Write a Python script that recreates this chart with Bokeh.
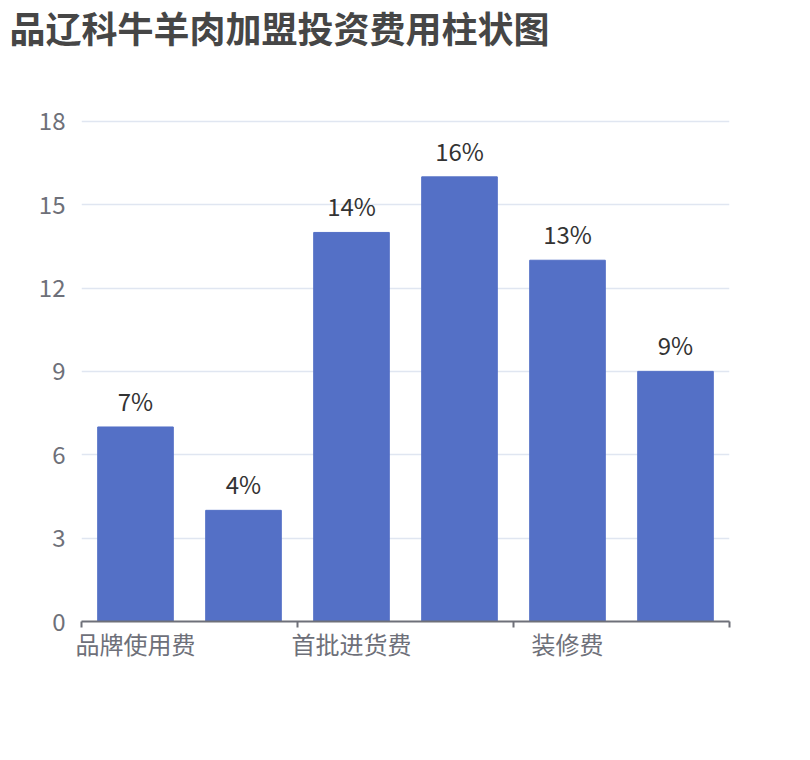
from bokeh.plotting import figure
from bokeh.models import ColumnDataSource, FixedTicker, Range1d
from bokeh.core.properties import value
from bokeh.embed import file_html
from bokeh.resources import INLINE

title_text = "品辽科牛羊肉加盟投资费用柱状图"
categories = ["品牌使用费", "加盟费", "首批进货费", "设备费", "装修费", "其他费用"]
values = [7, 4, 14, 16, 13, 9]
label_step = 2
y_ticks = [0, 3, 6, 9, 12, 15, 18]

FONT = "Noto Sans CJK SC"
AXIS_COLOR = "#6E7079"

xs = [i + 0.5 for i in range(len(values))]
src = ColumnDataSource(dict(x=xs, top=values, lab=[f"{v}%" for v in values]))

p = figure(width=794, height=744, output_backend="svg", toolbar_location=None,
           x_range=Range1d(0, len(values)), y_range=Range1d(0, 18.1),
           min_border_left=81, min_border_right=65, min_border_top=117, min_border_bottom=123)
p.outline_line_color = None
p.background_fill_color = "white"

p.title.text = title_text
p.title.text_font = FONT
p.title.text_font_size = "36px"
p.title.text_font_style = "bold"
p.title.text_color = "#464646"
p.title.text_line_height = 0.7
p.title.vertical_align = "top"
p.title.offset = -72
p.title.standoff = 0
p.title.padding = dict(left=0, right=0, top=0, bottom=64)

p.vbar(x="x", top="top", width=0.7, bottom=0, source=src, color="#5470c6")
p.text(x="x", y="top", text="lab", source=src, text_align="center", text_baseline="bottom",
       y_offset=-9, text_font=value(FONT), text_font_size="24px", text_color="#333333")

# y axis
p.yaxis.ticker = FixedTicker(ticks=y_ticks)
p.yaxis.axis_line_color = None
p.yaxis.major_tick_line_color = None
p.yaxis.major_tick_out = 0
p.yaxis.minor_tick_line_color = None
p.yaxis.minor_tick_out = 0
p.yaxis.major_label_text_font = FONT
p.yaxis.major_label_text_font_size = "24px"
p.yaxis.major_label_text_color = AXIS_COLOR
p.yaxis.major_label_standoff = 16
p.ygrid.grid_line_color = "#E0E6F1"
p.ygrid.grid_line_width = 1.5

# x axis
label_pos = [xs[i] for i in range(0, len(categories), label_step)]
tick_pos = list(range(0, len(categories) + 1, label_step))
p.xaxis.ticker = FixedTicker(ticks=label_pos, minor_ticks=tick_pos)
p.xaxis.major_label_overrides = {xs[i]: categories[i] for i in range(0, len(categories), label_step)}
p.xaxis.axis_line_color = AXIS_COLOR
p.xaxis.axis_line_width = 2
p.xaxis.major_tick_line_color = None
p.xaxis.major_tick_out = 0
p.xaxis.major_tick_in = 0
p.xaxis.minor_tick_line_color = AXIS_COLOR
p.xaxis.minor_tick_line_width = 2
p.xaxis.minor_tick_out = 6
p.xaxis.minor_tick_in = 0
p.xaxis.major_label_text_font = FONT
p.xaxis.major_label_text_font_size = "24px"
p.xaxis.major_label_text_color = AXIS_COLOR
p.xaxis.major_label_standoff = -2
p.xgrid.grid_line_color = None

open("out.html", "w").write(file_html(p, INLINE))
